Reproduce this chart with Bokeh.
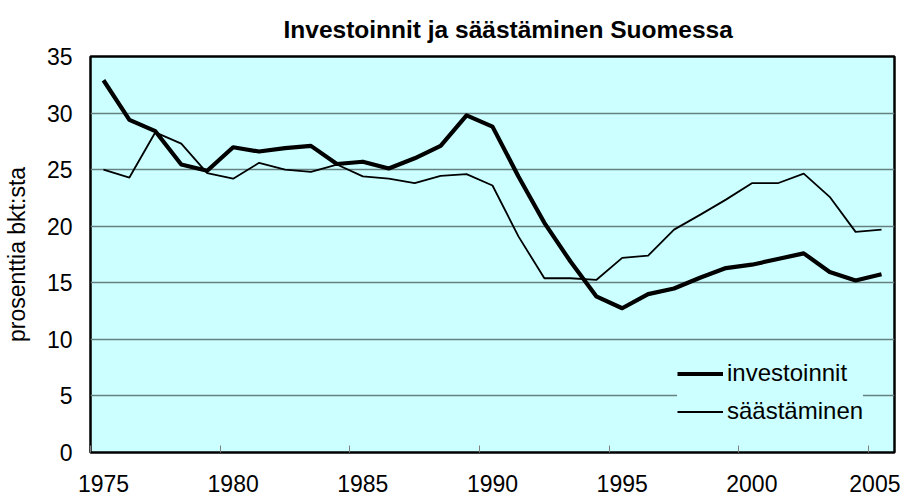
from bokeh.plotting import figure
from bokeh.models import FixedTicker, Range1d, Legend, LegendItem
from bokeh.embed import file_html
from bokeh.resources import INLINE

years = list(range(1975, 2006))
investoinnit = [32.9, 29.4, 28.4, 25.45, 24.9, 26.98, 26.6, 26.9, 27.1, 25.5,
                25.7, 25.1, 26.0, 27.1, 29.8, 28.8, 24.4, 20.3, 16.9, 13.8,
                12.75, 14.0, 14.5, 15.45, 16.3, 16.6, 17.1, 17.6, 15.96, 15.2, 15.75]
saastaminen = [25.0, 24.3, 28.3, 27.3, 24.7, 24.2, 25.6, 25.0, 24.8, 25.45,
               24.4, 24.2, 23.8, 24.45, 24.6, 23.6, 19.1, 15.4, 15.4, 15.25,
               17.2, 17.4, 19.7, 21.0, 22.35, 23.8, 23.8, 24.65, 22.6, 19.5, 19.7]
x_tick_years = [1975, 1980, 1985, 1990, 1995, 2000, 2005]
x_tick_marks = [1974.5, 1979.5, 1984.5, 1989.5, 1994.5, 1999.5, 2004.5]
y_ticks = [0, 5, 10, 15, 20, 25, 30, 35]

FONT = "Liberation Sans"
FS = "23px"

p = figure(width=900, height=497,
           x_range=Range1d(1974.5, 2005.5), y_range=Range1d(0, 35),
           output_backend="svg", toolbar_location=None,
           min_border_left=82, min_border_right=6, min_border_top=55,
           min_border_bottom=45,
           background_fill_color="#CCFFFF", border_fill_color="white",
           outline_line_color="black", outline_line_width=2.5)

p.title.text = "Investoinnit ja säästäminen Suomessa"
p.title.text_font = FONT
p.title.text_font_style = "bold"
p.title.text_font_size = "24.5px"
p.title.text_color = "black"
p.title.align = "left"
p.title.offset = 193
p.title.standoff = 27

xa = p.xaxis[0]
xa.ticker = FixedTicker(ticks=x_tick_years, minor_ticks=x_tick_marks)
xa.major_tick_in = 0
xa.major_tick_out = 0
xa.minor_tick_in = 7
xa.minor_tick_out = 0
xa.minor_tick_line_color = "#808080"
xa.minor_tick_line_width = 1
xa.axis_line_color = None
xa.major_label_text_font = FONT
xa.major_label_text_font_size = FS
xa.major_label_text_color = "black"
xa.major_label_text_line_height = 0.5
xa.major_label_standoff = 22

ya = p.yaxis[0]
ya.ticker = FixedTicker(ticks=y_ticks)
ya.major_tick_in = 0
ya.major_tick_out = 0
ya.minor_tick_in = 0
ya.minor_tick_out = 0
ya.axis_line_color = None
ya.major_label_text_font = FONT
ya.major_label_text_font_size = FS
ya.major_label_text_color = "black"
ya.major_label_standoff = 18
ya.axis_label = "prosenttia bkt:sta"
ya.axis_label_text_font = FONT
ya.axis_label_text_font_size = FS
ya.axis_label_text_font_style = "normal"
ya.axis_label_text_color = "black"
ya.axis_label_standoff = 14

p.xgrid.visible = False
p.ygrid.grid_line_color = "#668080"
p.ygrid.grid_line_width = 1.5

r1 = p.line(years, investoinnit, line_color="black", line_width=4.2, line_join="round")
r2 = p.line(years, saastaminen, line_color="black", line_width=1.8, line_join="round")

legend = Legend(items=[LegendItem(label="investoinnit", renderers=[r1]),
                       LegendItem(label="säästäminen", renderers=[r2])],
                location=(587, 27))
legend.background_fill_color = "#CCFFFF"
legend.background_fill_alpha = 1
legend.border_line_color = None
legend.label_text_font = FONT
legend.label_text_font_size = "24px"
legend.label_text_color = "black"
legend.glyph_width = 46
legend.glyph_height = 27
legend.label_height = 27
legend.label_standoff = 4
legend.spacing = 10
legend.padding = 12
legend.margin = 0
p.add_layout(legend)

open("out.html", "w").write(file_html(p, INLINE))
